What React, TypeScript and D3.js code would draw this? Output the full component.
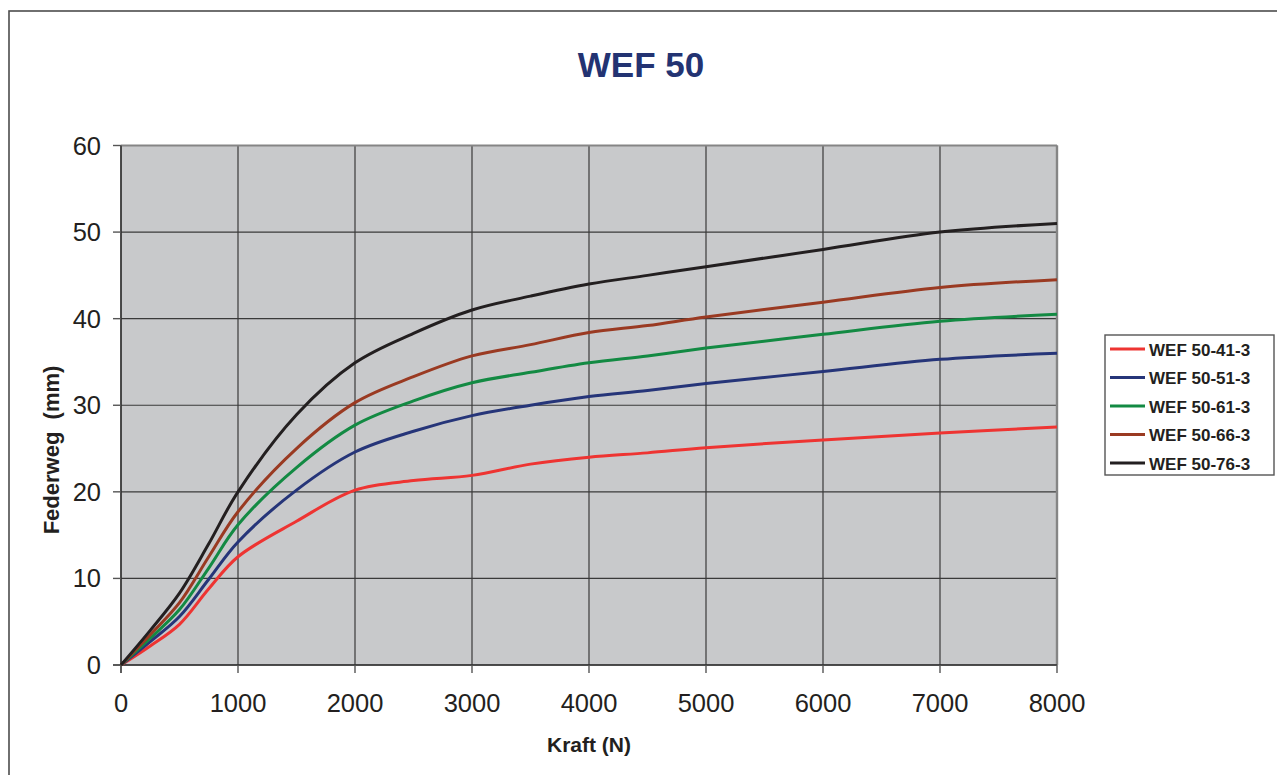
import React from 'react';
import * as d3 from 'd3';

const forces = [0, 250, 500, 750, 1000, 1500, 2000, 2500, 3000, 3500, 4000, 4500, 5000, 6000, 7000, 8000];

const wef41 = [0, 2.2, 4.7, 8.8, 12.5, 16.6, 20.2, 21.3, 21.9, 23.2, 24.0, 24.5, 25.1, 26.0, 26.8, 27.5];
const wef51 = [0, 2.7, 5.6, 9.9, 14.2, 20.2, 24.6, 27.0, 28.8, 30.0, 31.0, 31.7, 32.5, 33.9, 35.3, 36.0];
const wef61 = [0, 3.1, 6.4, 11.2, 16.2, 22.8, 27.7, 30.5, 32.6, 33.8, 34.9, 35.7, 36.6, 38.2, 39.7, 40.5];
const wef66 = [0, 3.5, 7.2, 12.5, 17.7, 25.0, 30.3, 33.3, 35.7, 37.0, 38.4, 39.2, 40.2, 41.9, 43.6, 44.5];
const wef76 = [0, 4.0, 8.3, 14.0, 20.0, 28.9, 34.9, 38.3, 41.0, 42.6, 44.0, 45.0, 46.0, 48.0, 50.0, 51.0];

const seriesNames = ['WEF 50-41-3', 'WEF 50-51-3', 'WEF 50-61-3', 'WEF 50-66-3', 'WEF 50-76-3'];
const seriesValues = [wef41, wef51, wef61, wef66, wef76];
const seriesColors = ['#ee3432', '#263579', '#138a43', '#9a3a22', '#231f20'];

const xTicks = [0, 1000, 2000, 3000, 4000, 5000, 6000, 7000, 8000];
const yTicks = [0, 10, 20, 30, 40, 50, 60];

const W = 1277;
const H = 775;
const plot = { left: 121, right: 1057, top: 145.5, bottom: 665 };
const font = 'Arial, "Liberation Sans", sans-serif';

export default function App() {
  const x = d3.scaleLinear().domain([0, 8000]).range([plot.left, plot.right]);
  const y = d3.scaleLinear().domain([0, 60]).range([plot.bottom, plot.top]);

  const line = d3
    .line<number>()
    .x((_, i) => x(forces[i]))
    .y((d) => y(d))
    .curve(d3.curveCatmullRom.alpha(0.5));

  // legend placement
  const legend = { x: 1105, y: 335, w: 169, h: 140, row: 28.5, first: 349 };

  return (
    <svg
      width={W}
      height={H}
      style={{ position: 'absolute', left: 0, top: 0, background: '#fff' }}
      fontFamily={font}
    >
      {/* outer chart frame */}
      <rect x={9} y={11} width={W + 20} height={H + 20} fill="none" stroke="#4d4d4d" strokeWidth={1.6} />

      <text
        x={641}
        y={77}
        textAnchor="middle"
        fontSize={35}
        fontWeight="bold"
        fill="#233372"
      >
        WEF 50
      </text>

      {/* plot background */}
      <rect
        x={plot.left}
        y={plot.top}
        width={plot.right - plot.left}
        height={plot.bottom - plot.top}
        fill="#c8c9cb"
      />

      {/* grid */}
      {yTicks.map((t) => (
        <line key={'gy' + t} x1={plot.left} x2={plot.right} y1={y(t)} y2={y(t)} stroke="#3a3a3a" strokeWidth={1.2} />
      ))}
      {xTicks.map((t) => (
        <line key={'gx' + t} x1={x(t)} x2={x(t)} y1={plot.top} y2={plot.bottom} stroke="#3a3a3a" strokeWidth={1.2} />
      ))}

      {/* plot border top / right */}
      <line x1={plot.left} x2={plot.right} y1={plot.top} y2={plot.top} stroke="#858585" strokeWidth={2} />
      <line x1={plot.right} x2={plot.right} y1={plot.top} y2={plot.bottom} stroke="#858585" strokeWidth={2.4} />

      {/* axes */}
      <line x1={plot.left} x2={plot.left} y1={plot.top} y2={plot.bottom + 8} stroke="#333" strokeWidth={1.4} />
      <line x1={plot.left - 8} x2={plot.right} y1={plot.bottom} y2={plot.bottom} stroke="#333" strokeWidth={1.4} />

      {yTicks.map((t) => (
        <g key={'ty' + t}>
          <line x1={plot.left - 8} x2={plot.left} y1={y(t)} y2={y(t)} stroke="#555" strokeWidth={1.4} />
          <text x={101} y={y(t) + 9} textAnchor="end" fontSize={25.5} fill="#231f20">
            {t}
          </text>
        </g>
      ))}
      {xTicks.map((t) => (
        <g key={'tx' + t}>
          <line x1={x(t)} x2={x(t)} y1={plot.bottom} y2={plot.bottom + 8} stroke="#555" strokeWidth={1.4} />
          <text x={x(t)} y={712} textAnchor="middle" fontSize={25.5} fill="#231f20">
            {t}
          </text>
        </g>
      ))}

      {/* curves */}
      {seriesValues.map((vals, i) => (
        <path key={seriesNames[i]} d={line(vals) ?? ''} fill="none" stroke={seriesColors[i]} strokeWidth={3} />
      ))}

      {/* axis titles */}
      <text x={589} y={752} textAnchor="middle" fontSize={21} fontWeight="bold" fill="#231f20">
        Kraft (N)
      </text>
      <text
        transform="translate(59,450) rotate(-90)"
        textAnchor="middle"
        fontSize={22}
        fontWeight="bold"
        fill="#231f20"
        style={{ whiteSpace: 'pre' }}
      >
        {'Federweg  (mm)'}
      </text>

      {/* legend */}
      <rect x={legend.x} y={legend.y} width={legend.w} height={legend.h} fill="#fff" stroke="#555" strokeWidth={1.4} />
      {seriesNames.map((name, i) => {
        const cy = legend.first + i * legend.row;
        return (
          <g key={'lg' + name}>
            <line x1={1110} x2={1145} y1={cy} y2={cy} stroke={seriesColors[i]} strokeWidth={3} />
            <text x={1149} y={cy + 6.5} fontSize={17} fontWeight="bold" fill="#231f20">
              {name}
            </text>
          </g>
        );
      })}
    </svg>
  );
}
